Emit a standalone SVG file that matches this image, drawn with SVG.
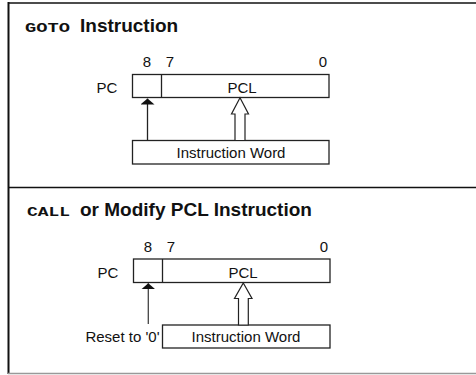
<svg xmlns="http://www.w3.org/2000/svg" width="476" height="375" viewBox="0 0 476 375">
<defs>
<style>
.t{font-family:"Liberation Sans",Arial,sans-serif;font-size:15px;fill:#111}
.h{font-family:"Liberation Sans",Arial,sans-serif;font-size:19px;font-weight:bold;fill:#111}
.m{font-family:"Liberation Mono","Courier New",monospace;font-size:12px;font-weight:bold;fill:#111}
.box{fill:#fff;stroke:#222;stroke-width:1.3}
.ln{stroke:#222;stroke-width:1.3;fill:none}
.hol{fill:#fff;stroke:#222;stroke-width:1.2;stroke-linejoin:miter}
</style>
<marker id="ah" viewBox="0 0 10 10" refX="10" refY="5" markerWidth="6" markerHeight="14" markerUnits="userSpaceOnUse" orient="auto" preserveAspectRatio="none">
<path d="M0,0 L10,5 L0,10 Z" fill="#111"/>
</marker>
</defs>
<rect x="0" y="0" width="476" height="375" fill="#fff"/>
<g id="frame">
<line x1="8.5" y1="2" x2="8.5" y2="374" stroke="#111" stroke-width="2"/>
<line x1="8" y1="3" x2="476" y2="3" stroke="#111" stroke-width="1.5"/>
<line x1="8" y1="187.5" x2="476" y2="187.5" stroke="#111" stroke-width="1.5"/>
<line x1="8" y1="373.5" x2="476" y2="373.5" stroke="#999" stroke-width="1.5"/>
</g>
<g id="title1">
<text class="m" x="25" y="32" textLength="45" lengthAdjust="spacingAndGlyphs">GOTO</text>
<text class="h" x="80" y="32">Instruction</text>
</g>
<g id="pc1">
<rect class="box" x="132.5" y="74.5" width="196.5" height="23"/>
<line class="ln" x1="161.5" y1="74.5" x2="161.5" y2="97.5"/>
<text class="t" x="147" y="67" text-anchor="middle">8</text>
<text class="t" x="170" y="67" text-anchor="middle">7</text>
<text class="t" x="323" y="67" text-anchor="middle">0</text>
<text class="t" x="107" y="92.5" text-anchor="middle">PC</text>
<text class="t" x="242" y="92.5" text-anchor="middle">PCL</text>
</g>
<g id="iw1">
<rect class="box" x="132.5" y="140.5" width="196.5" height="23.5"/>
<text class="t" x="231" y="158" text-anchor="middle">Instruction Word</text>
</g>
<g id="title2">
<text class="m" x="27" y="215.5" textLength="43" lengthAdjust="spacingAndGlyphs">CALL</text>
<text class="h" x="80" y="215.5">or Modify PCL Instruction</text>
</g>
<g id="pc2">
<rect class="box" x="133.5" y="259" width="196.5" height="23.5"/>
<line class="ln" x1="162.5" y1="259" x2="162.5" y2="282.5"/>
<text class="t" x="148" y="251.5" text-anchor="middle">8</text>
<text class="t" x="171" y="251.5" text-anchor="middle">7</text>
<text class="t" x="324" y="251.5" text-anchor="middle">0</text>
<text class="t" x="108" y="277.5" text-anchor="middle">PC</text>
<text class="t" x="243" y="277.5" text-anchor="middle">PCL</text>
</g>
<g id="iw2">
<rect class="box" x="162.5" y="325" width="167.5" height="23"/>
<text class="t" x="246" y="342" text-anchor="middle">Instruction Word</text>
</g>
<g id="reset">
<text class="t" x="159.5" y="341.5" text-anchor="end">Reset to '0'</text>
</g>
<g id="connectors">
<line class="ln" x1="147.5" y1="140.5" x2="147.5" y2="98.5" marker-end="url(#ah)"/>
<path class="hol" d="M240,97.8 L248.5,114 L245,114 L245,140.5 L235,140.5 L235,114 L231.5,114 Z"/>
<line x1="148.3" y1="324" x2="148.3" y2="283.3" stroke="#444" stroke-width="1.3" marker-end="url(#ah)"/>
<path class="hol" d="M243.3,283 L252,298.5 L248.3,298.5 L248.3,325 L238.5,325 L238.5,298.5 L234.5,298.5 Z"/>
</g>
</svg>
